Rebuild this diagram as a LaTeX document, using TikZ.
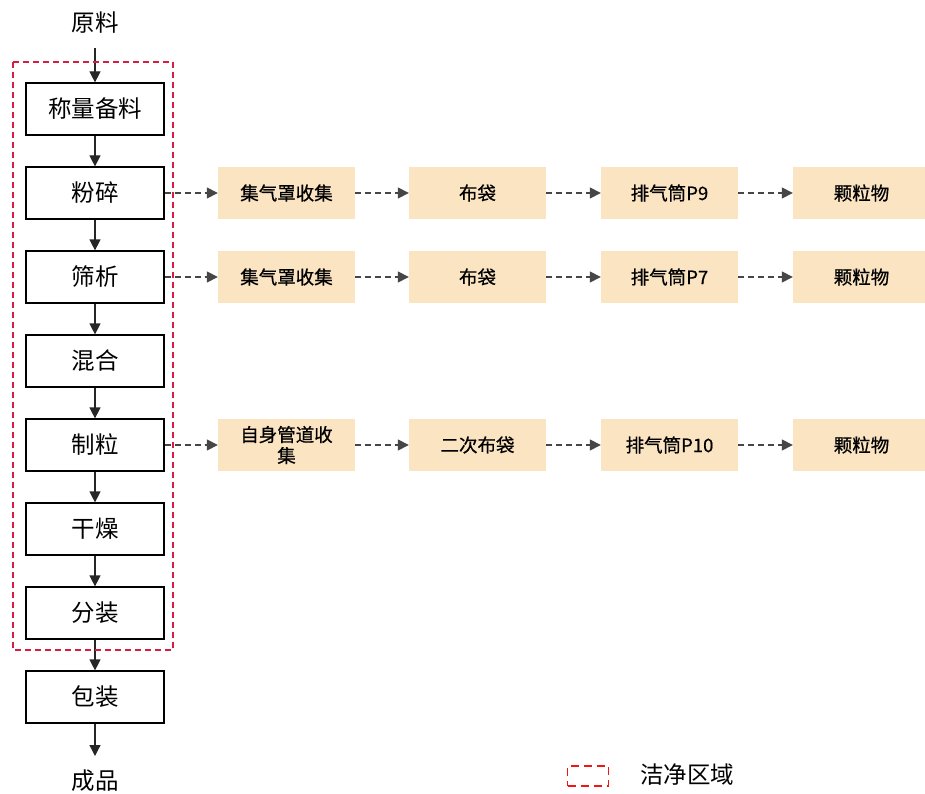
\documentclass[tikz,border=0pt]{standalone}
\usepackage{fontspec}
\newfontfamily\cjk{Noto Sans CJK SC}
\newfontfamily\cjkb[FakeBold=0.7]{Noto Sans CJK SC}
\usetikzlibrary{arrows.meta}
\definecolor{boxfill}{RGB}{251,228,194}
\definecolor{zone}{RGB}{215,30,65}
\definecolor{legred}{RGB}{245,20,20}
\definecolor{dashgray}{RGB}{70,70,70}
\tikzset{
  procbox/.style={draw=black, line width=1.2pt, minimum width=138pt, minimum height=52pt, inner sep=0pt, font=\cjk\fontsize{23.5}{26}\selectfont},
  gasbox/.style={fill=boxfill, minimum width=137pt, minimum height=52pt, inner sep=0pt, align=center, font=\cjkb\fontsize{18.5}{21}\selectfont},
  plain/.style={inner sep=0pt, font=\cjk\fontsize{23.5}{26}\selectfont},
  flow/.style={draw=black!85, line width=1.2pt, -{Triangle[width=11pt,length=11pt]}},
  gasflow/.style={draw=dashgray, line width=1.5pt, dash pattern=on 6pt off 4pt, -{Triangle[width=11pt,length=11pt]}}
}
\begin{document}
\begin{tikzpicture}[x=1pt,y=-1pt]
\useasboundingbox (0,0) rectangle (925,794);
\clip (0,0) rectangle (925,794);
\node[plain] (raw) at (95,23) {原料};
\node[procbox] (s1) at (95,109) {称量备料};
\node[procbox] (s2) at (95,193) {粉碎};
\node[procbox] (s3) at (95,277) {筛析};
\node[procbox] (s4) at (95,361) {混合};
\node[procbox] (s5) at (95,445) {制粒};
\node[procbox] (s6) at (95,529) {干燥};
\node[procbox] (s7) at (95,613) {分装};
\node[procbox] (s8) at (95,697) {包装};
\node[plain] (prod) at (95,781) {成品};
\coordinate (rawb) at (95,48);
\coordinate (prodt) at (95,756);
\draw[flow] (rawb) -- (s1.north);
\draw[flow] (s1) -- (s2);
\draw[flow] (s2) -- (s3);
\draw[flow] (s3) -- (s4);
\draw[flow] (s4) -- (s5);
\draw[flow] (s5) -- (s6);
\draw[flow] (s6) -- (s7);
\draw[flow] (s7) -- (s8);
\draw[flow] (s8.south) -- (prodt);
% clean zone
\draw[zone, line width=1.4pt, dash pattern=on 6pt off 4pt] (13,62) rectangle (173,650);
% row 1
\node[gasbox] (a1) at (286.5,193) {集气罩收集};
\node[gasbox] (a2) at (477.5,193) {布袋};
\node[gasbox] (a3) at (669.5,193) {排气筒P9};
\node[gasbox] (a4) at (861.5,193) {颗粒物};
% row 2
\node[gasbox] (b1) at (286.5,277) {集气罩收集};
\node[gasbox] (b2) at (477.5,277) {布袋};
\node[gasbox] (b3) at (669.5,277) {排气筒P7};
\node[gasbox] (b4) at (861.5,277) {颗粒物};
% row 3
\node[gasbox] (c1) at (286.5,445) {自身管道收\\集};
\node[gasbox] (c2) at (477.5,445) {二次布袋};
\node[gasbox] (c3) at (669.5,445) {排气筒P10};
\node[gasbox] (c4) at (861.5,445) {颗粒物};
\draw[gasflow] (s2) -- (a1);
\draw[gasflow] (a1) -- (a2);
\draw[gasflow] (a2) -- (a3);
\draw[gasflow] (a3) -- (a4);
\draw[gasflow] (s3) -- (b1);
\draw[gasflow] (b1) -- (b2);
\draw[gasflow] (b2) -- (b3);
\draw[gasflow] (b3) -- (b4);
\draw[gasflow] (s5) -- (c1);
\draw[gasflow] (c1) -- (c2);
\draw[gasflow] (c2) -- (c3);
\draw[gasflow] (c3) -- (c4);
% legend
\node[draw=legred, line width=1.8pt, dash pattern=on 8pt off 5pt, minimum width=41pt, minimum height=20pt, inner sep=0pt] (leg) at (588,776) {};
\node[plain, anchor=west] (legt) at (640,775) {洁净区域};
\end{tikzpicture}
\end{document}
